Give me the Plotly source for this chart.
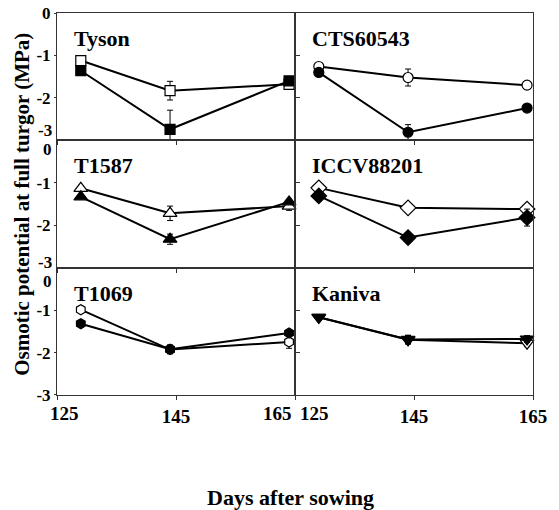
import plotly.graph_objects as go
from plotly.subplots import make_subplots

days = [129, 144, 164]
cultivars = ["Tyson", "CTS60543", "T1587", "ICCV88201", "T1069", "Kaniva"]
symbols = ["square", "circle", "triangle-up", "diamond", "hexagon", "triangle-down"]
x_ticks = [125, 145, 165]
y_ticks = [0, -1, -2, -3]

open_vals = [
    [-1.12, -1.83, -1.68],
    [-1.26, -1.52, -1.70],
    [-1.13, -1.72, -1.55],
    [-1.12, -1.59, -1.62],
    [-0.99, -1.93, -1.75],
    [-1.17, -1.70, -1.78],
]
open_err = [
    [0, 0.22, 0.08],
    [0, 0.20, 0.0],
    [0, 0.17, 0.10],
    [0, 0.10, 0.05],
    [0, 0.10, 0.15],
    [0, 0.10, 0.08],
]
filled_vals = [
    [-1.36, -2.74, -1.60],
    [-1.40, -2.81, -2.24],
    [-1.33, -2.33, -1.45],
    [-1.31, -2.29, -1.82],
    [-1.32, -1.92, -1.54],
    [-1.17, -1.69, -1.68],
]
filled_err = [
    [0, 0.45, 0.0],
    [0, 0.18, 0.0],
    [0, 0.12, 0.0],
    [0, 0.12, 0.20],
    [0, 0.10, 0.0],
    [0, 0.10, 0.08],
]

FONT = "Liberation Serif"
fig = make_subplots(rows=3, cols=2, horizontal_spacing=0, vertical_spacing=0)


def axref(prefix, i):
    return prefix if i == 0 else "%s%d" % (prefix, i + 1)


for i, name in enumerate(cultivars):
    r, c = i // 2 + 1, i % 2 + 1
    for vals, err, filled in [(open_vals[i], open_err[i], False), (filled_vals[i], filled_err[i], True)]:
        msize = 10 if symbols[i] in ("square", "circle", "hexagon") else 12
        fig.add_trace(go.Scatter(
            x=days, y=vals, mode="lines+markers",
            line=dict(color="black", width=2),
            marker=dict(symbol=symbols[i], size=msize, color="black" if filled else "white",
                        line=dict(color="black", width=1.2)),
            error_y=dict(type="data", array=err, visible=True, color="black", thickness=1, width=3),
            showlegend=False, cliponaxis=False,
        ), row=r, col=c)
    fig.add_annotation(text="<b>%s</b>" % name, xref=axref("x", i) + " domain",
                       yref=axref("y", i) + " domain",
                       x=0.065, y=0.80, xanchor="left", yanchor="middle", showarrow=False,
                       font=dict(family=FONT, size=22, color="black"))

for i in range(6):
    r, c = i // 2 + 1, i % 2 + 1
    bottom = r == 3
    if c == 1:
        ttext = ["", "<b>%d</b>" % x_ticks[1], ""]
    else:
        ttext = ["", "<b>%d</b>" % x_ticks[1], "<b>%d</b>" % x_ticks[2]]
    fig.update_xaxes(range=[x_ticks[0], x_ticks[-1]], tickvals=x_ticks, ticktext=ttext,
                     showticklabels=bottom, ticks="outside", ticklen=4, tickcolor="#333",
                     showline=True, linecolor="#333", linewidth=1, mirror=True,
                     showgrid=False, zeroline=False, automargin=False,
                     tickfont=dict(family=FONT, size=19, color="black"),
                     row=r, col=c)
    if c == 1:
        if r == 1:
            tv = y_ticks[:3]
        elif r == 2:
            tv = y_ticks[1:3]
        else:
            tv = y_ticks[1:]
        fig.update_yaxes(range=[-3, 0], tickvals=tv, ticktext=["<b>%d</b>" % v for v in tv],
                         ticks="outside", ticklen=2,
                         tickcolor="#333", showticklabels=True, row=r, col=c)
    else:
        fig.update_yaxes(range=[-3, 0], tickvals=y_ticks[1:3], ticks="inside", ticklen=5,
                         tickcolor="#333", showticklabels=False, row=r, col=c)
    fig.update_yaxes(showline=True, linecolor="#333", linewidth=1, mirror=True,
                     showgrid=False, zeroline=False, automargin=False,
                     tickfont=dict(family=FONT, size=17, color="black"), row=r, col=c)

# boundary tick labels, offset to avoid overlap as in the original figure
for yref, yval, shift in [("y", -3, 10), ("y3", 0, -9), ("y3", -3, 5), ("y5", 0, -14)]:
    fig.add_annotation(text="<b>%d</b>" % yval, xref="paper", x=0, xanchor="right", xshift=-3,
                       yref=yref, y=yval, yshift=shift, showarrow=False,
                       font=dict(family=FONT, size=17, color="black"))
for xref, xval, anchor, shift in [("x5", x_ticks[0], "left", -9), ("x5", x_ticks[-1], "right", -1),
                                  ("x6", x_ticks[0], "left", 3)]:
    fig.add_annotation(text="<b>%d</b>" % xval, xref=xref, x=xval, xanchor=anchor, xshift=shift,
                       yref="paper", y=0, yanchor="top", yshift=-6, showarrow=False,
                       font=dict(family=FONT, size=19, color="black"))

fig.add_annotation(text="<b>Osmotic potential at full turgor (MPa)</b>", xref="paper", yref="paper",
                   x=-0.074, y=0.5, textangle=-90, showarrow=False, xanchor="center", yanchor="middle",
                   font=dict(family=FONT, size=21, color="black"))
fig.add_annotation(text="<b>Days after sowing</b>", xref="paper", yref="paper",
                   x=0.49, y=-0.268, showarrow=False, xanchor="center", yanchor="middle",
                   font=dict(family=FONT, size=22, color="black"))

fig.update_layout(width=559, height=510, margin=dict(l=57, r=26, t=13, b=115),
                  plot_bgcolor="white", paper_bgcolor="white", showlegend=False)

fig.write_html("out.html")
